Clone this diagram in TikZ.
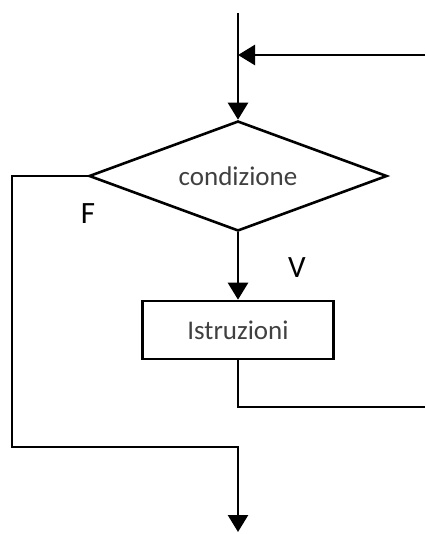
\documentclass[tikz,border=0pt]{standalone}
\usepackage{fontspec}
\setmainfont{Carlito}
\usetikzlibrary{arrows.meta}
\usetikzlibrary{shapes.geometric}

\begin{document}
\begin{tikzpicture}[x=0.5pt,y=-0.5pt,line width=1.3pt,
    cond/.style={diamond,draw,minimum width=149pt,minimum height=55pt,inner sep=0pt,shape aspect=2.7,font=\fontsize{13.5}{16}\selectfont,text=black!75},
    istr/.style={rectangle,draw,minimum width=95.5pt,minimum height=29pt,inner sep=0pt,font=\fontsize{13.5}{16}\selectfont,text=black!75},
    etich/.style={font=\fontsize{15.5}{18}\selectfont},
    freccia/.style={-{Triangle[length=8.5pt,width=10pt]}}]
    \useasboundingbox (0,0) rectangle (425,534);
	\node [cond] (cond) at (238,176) {condizione};
	\node [istr] (istr) at (238,330) {Istruzioni};
	\node [etich] (f) at (88,214) {F};
	\node [etich] (v) at (297,268) {V};
	\coordinate (inizio) at (238,13);
	\coordinate (ritorno) at (238,55);
	\coordinate (destra) at (425,55);
	\coordinate (giu) at (238,407);
	\coordinate (uscita) at (425,407);
	\coordinate (sx) at (12,176);
	\coordinate (sxbasso) at (12,447);
	\coordinate (basso) at (238,447);
	\coordinate (fine) at (238,532);
	\draw [freccia] (inizio) -- (cond.north);
	\draw [freccia] (destra) -- (ritorno);
	\draw [freccia] (cond.south) -- (istr.north);
	\draw (istr.south) -- (giu) -- (uscita);
	\draw [freccia] (cond.west) -- (sx) -- (sxbasso) -- (basso) -- (fine);
\end{tikzpicture}
\end{document}
